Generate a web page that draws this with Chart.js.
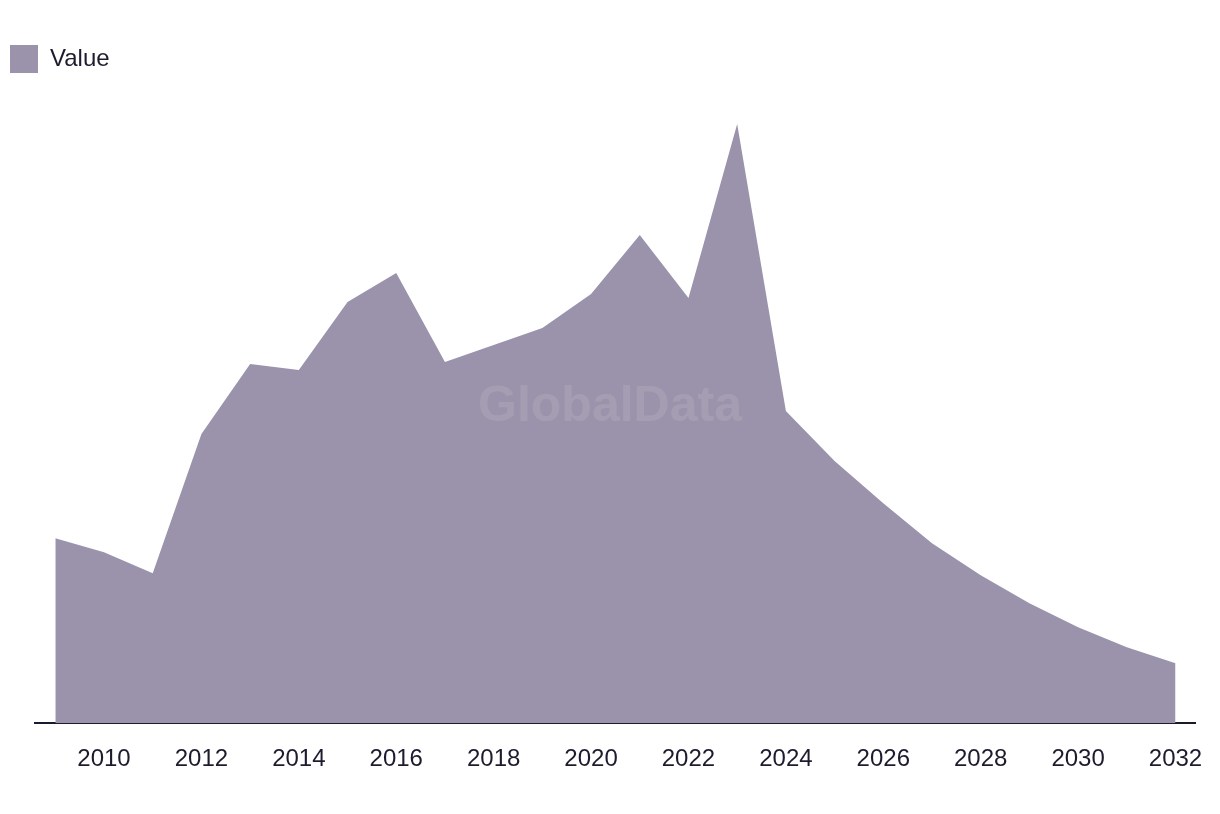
<!DOCTYPE html>
<html>
<head>
<meta charset="utf-8">
<script src="https://cdn.jsdelivr.net/npm/chart.js@4"></script>
<style>
  html, body { margin: 0; padding: 0; background: #fff; }
  #wrap { width: 1220px; height: 814px; }
</style>
</head>
<body>
<div id="wrap"><canvas id="chart" width="1220" height="814"></canvas></div>
<script>
const years = [2009, 2010, 2011, 2012, 2013, 2014, 2015, 2016, 2017, 2018, 2019, 2020,
  2021, 2022, 2023, 2024, 2025, 2026, 2027, 2028, 2029, 2030, 2031, 2032];
const values = [185, 171, 150, 289, 359, 353, 421, 450, 361, 378, 395, 429,
  488, 425, 599, 312, 262, 220, 180, 148, 120, 96, 76, 60];
const tickYears = [2010, 2012, 2014, 2016, 2018, 2020, 2022, 2024, 2026, 2028, 2030, 2032];

const textColor = "#1e1b2e";
const fillColor = "#9b93ab";

const watermark = {
  id: "watermark",
  afterDatasetsDraw(chart) {
    const ctx = chart.ctx;
    ctx.save();
    ctx.font = "bold 50px 'Liberation Sans', Arial, sans-serif";
    ctx.fillStyle = "rgba(255,255,255,0.1)";
    ctx.textAlign = "center";
    ctx.textBaseline = "middle";
    ctx.fillText("GlobalData", 610, 407);
    ctx.restore();
  }
};

const ctx = document.getElementById("chart").getContext("2d");
new Chart(ctx, {
  type: "line",
  data: {
    datasets: [
      {
        label: "Value",
        data: years.map((y, i) => ({ x: y, y: values[i] })),
        backgroundColor: fillColor,
        borderColor: fillColor,
        borderWidth: 0,
        pointRadius: 0,
        fill: "origin",
        tension: 0,
      },
    ],
  },
  options: {
    responsive: false,
    animation: false,
    layout: { padding: { top: 35, right: 25, bottom: 26, left: 0 } },
    plugins: {
      legend: {
        position: "top",
        align: "start",
        labels: {
          boxWidth: 28,
          boxHeight: 28,
          padding: 10,
          color: textColor,
          font: { family: "'Liberation Sans', Arial, sans-serif", size: 24 },
        },
      },
      tooltip: { enabled: false },
    },
    scales: {
      x: {
        type: "linear",
        min: 2008.583,
        max: 2032.4,
        afterBuildTicks: (scale) => {
          scale.ticks = tickYears.map((v) => ({ value: v }));
        },
        grid: { display: false },
        border: { display: true, color: "#1a1a2e", width: 2 },
        ticks: {
          color: textColor,
          padding: 14,
          autoSkip: false,
          maxRotation: 0,
          font: { family: "'Liberation Sans', Arial, sans-serif", size: 24 },
          callback: (v) => String(v),
        },
      },
      y: {
        min: 0,
        max: 640,
        afterFit: (scale) => { scale.width = 35; },
        grid: { display: false },
        border: { display: false },
        ticks: { display: false },
      },
    },
  },
  plugins: [watermark],
});
</script>
</body>
</html>
